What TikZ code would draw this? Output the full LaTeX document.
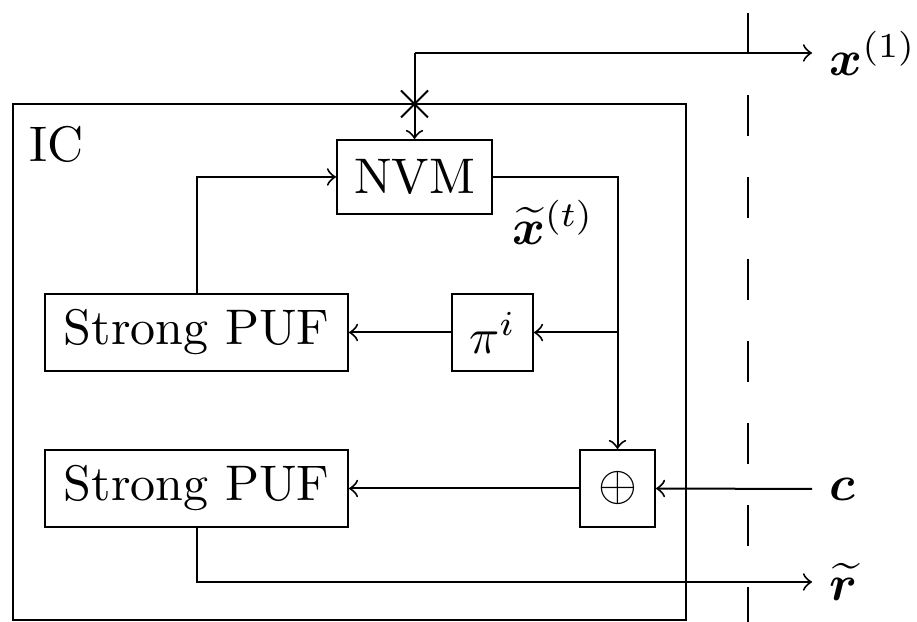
\documentclass[tikz,border=0pt]{standalone}
\usepackage{amsmath}
\usepackage{bm}
\usetikzlibrary{shapes.misc}
\begin{document}
\begin{tikzpicture}[x=0.2pt,y=-0.2pt,
  box/.style={draw, line width=0.4pt, inner sep=0pt},
  conn/.style={->, line width=0.4pt},
  lbl/.style={inner sep=3.33pt}]
\useasboundingbox (0,0) rectangle (917,622);
% outer IC box
\node[box, minimum width=134.6pt, minimum height=103.2pt] (ic) at (349.5,362) {};
\node (iclbl) at (57,144) {IC};
% blocks
\node[box, minimum width=31pt, minimum height=14.8pt] (nvm) at (414.5,177) {NVM};
\node[box, minimum width=60.6pt, minimum height=15.4pt] (puf1) at (196.5,332.5) {Strong PUF};
\node[box, minimum width=16.2pt, minimum height=15.4pt] (pi) at (492.5,332.5) {$\pi^i$};
\node[box, minimum width=60.6pt, minimum height=15.4pt] (puf2) at (196.5,488.5) {Strong PUF};
\node[box, minimum width=15pt, minimum height=15.4pt] (xor) at (617.5,488.5) {$\oplus$};
% labels
\node[lbl, anchor=west] (x1) at (812,53) {$\bm{x}^{(1)}$};
\node[lbl, anchor=west] (c) at (812,489) {$\bm{c}$};
\node[lbl, anchor=west] (rt) at (812,582) {$\widetilde{\bm{r}}$};
\node (xt) at (553,222) {$\widetilde{\bm{x}}^{(t)}$};
% cross on IC boundary
\node[cross out, draw, minimum size=5pt, inner sep=0pt] (cr) at (414.5,104) {};
% dashed separator
\coordinate (dtop) at (748,13);
\coordinate (dbot) at (748,622);
\draw[dash pattern=on 8.2pt off 8.2pt] (dtop) -- (dbot);
% connectors
\coordinate (top) at (414.5,53);
\draw[conn] (top) -- (nvm.north);
\draw[conn] (top) -- (x1.west);
\draw[conn] (puf1.north) |- (nvm.west);
\draw[conn] (nvm.east) -| (xor.north);
\coordinate (br) at (xor.north |- pi.east);
\draw[conn] (br) -- (pi.east);
\draw[conn] (pi.west) -- (puf1.east);
\draw[conn] (xor.west) -- (puf2.east);
\draw[conn] (c.west) -- (xor.east);
\draw[conn] (puf2.south) |- (rt.west);
\end{tikzpicture}
\end{document}
